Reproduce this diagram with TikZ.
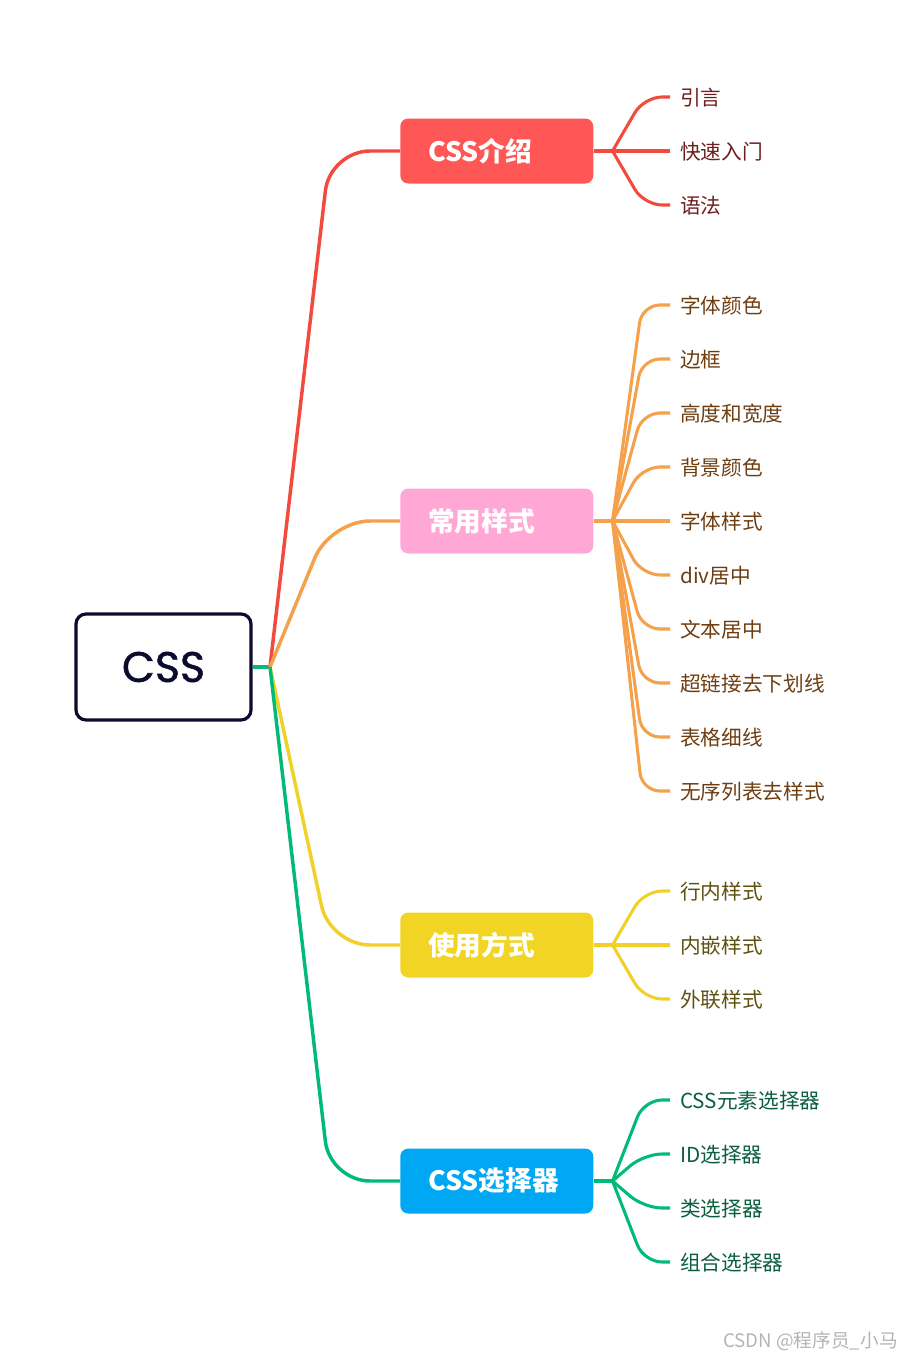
\documentclass[tikz,border=0pt]{standalone}
\usepackage{fontspec}
\setmainfont{Noto Sans CJK SC}
\newfontfamily\popfont{Poppins}[FakeBold=1.2]
\usetikzlibrary{calc}
\definecolor{rootc}{HTML}{0B0B2E}
\definecolor{lred}{HTML}{F24A3E}
\definecolor{fred}{HTML}{FF5656}
\definecolor{tred}{HTML}{6E1E1E}
\definecolor{lorange}{HTML}{F5A04B}
\definecolor{fpink}{HTML}{FFA8D6}
\definecolor{torange}{HTML}{6E3E12}
\definecolor{lyellow}{HTML}{F2D02A}
\definecolor{fyellow}{HTML}{F2D424}
\definecolor{tyellow}{HTML}{5E5010}
\definecolor{lgreen}{HTML}{00BB78}
\definecolor{fblue}{HTML}{00A8F3}
\definecolor{tgreen}{HTML}{0B5E3E}
\definecolor{wm}{HTML}{B4B4B4}
\tikzset{
  rootbox/.style={draw=rootc, line width=2.4pt, rounded corners=7.5pt, minimum width=131.25pt, minimum height=79.5pt, text=rootc, font=\popfont\fontsize{32}{36}\selectfont},
  mainbox/.style={rounded corners=6pt, minimum height=48.75pt, text width=102.75pt, inner xsep=21pt, inner ysep=0pt, align=left, anchor=west, text=white, font=\bfseries\fontsize{20}{24}\selectfont},
  leaf/.style={anchor=west, inner sep=0pt, font=\fontsize{15.5}{18}\selectfont},
  mainline/.style={line width=2.6pt, rounded corners=30pt},
  leafline/.style={line width=2.3pt, rounded corners=13.5pt},
}
\begin{document}
\begin{tikzpicture}[x=0.75pt,y=-0.75pt]
\useasboundingbox (0,0) rectangle (913,1360);
% root
\node[rootbox] (root) at (163.5,667) {CSS};
\coordinate (hub) at (270,667);
% main nodes
\node[mainbox, fill=fred] (intro) at (400,151) {CSS介绍};
\node[mainbox, fill=fpink] (style) at (400,521) {常用样式};
\node[mainbox, fill=fyellow] (use) at (400,945) {使用方式};
\node[mainbox, fill=fblue] (sel) at (400,1181) {CSS选择器};
% main connectors
\draw[lgreen, line width=2.6pt] (root.east) -- (hub);
\draw[lred, mainline] (hub) -- ($(intro.west)+(-70,0)$) -- (intro.west);
\draw[lorange, mainline] (hub) -- ($(style.west)+(-70,0)$) -- (style.west);
\draw[lyellow, mainline] (hub) -- ($(use.west)+(-70,0)$) -- (use.west);
\draw[lgreen, mainline] (hub) -- ($(sel.west)+(-70,0)$) -- (sel.west);
% hubs
\coordinate (h1) at ($(intro.east)+(19,0)$);
\coordinate (h2) at ($(style.east)+(19,0)$);
\coordinate (h3) at ($(use.east)+(19,0)$);
\coordinate (h4) at ($(sel.east)+(19,0)$);
\draw[lred, line width=2.3pt] (intro.east) -- (h1);
\draw[lorange, line width=2.3pt] (style.east) -- (h2);
\draw[lyellow, line width=2.3pt] (use.east) -- (h3);
\draw[lgreen, line width=2.3pt] (sel.east) -- (h4);
% leaves red
\foreach \n/\y/\t in {a1/98/引言, a2/152/快速入门, a3/206/语法}{
  \node[leaf, text=tred] (\n) at (680,\y) {\t};
  \draw[lred, leafline] (h1) -- ($(\n.west)+(-36,-1)$) -- ($(\n.west)+(-10,-1)$);
}
% leaves orange
\foreach \n/\y/\t in {b1/306/字体颜色, b2/360/边框, b3/414/高度和宽度, b4/468/背景颜色, b5/522/字体样式, b6/576/div居中, b7/630/文本居中, b8/684/超链接去下划线, b9/738/表格细线, b10/792/无序列表去样式}{
  \node[leaf, text=torange] (\n) at (680,\y) {\t};
  \draw[lorange, leafline] (h2) -- ($(\n.west)+(-38,-1)$) -- ($(\n.west)+(-10,-1)$);
}
% leaves yellow
\foreach \n/\y/\t in {c1/892/行内样式, c2/946/内嵌样式, c3/1000/外联样式}{
  \node[leaf, text=tyellow] (\n) at (680,\y) {\t};
  \draw[lyellow, leafline] (h3) -- ($(\n.west)+(-36,-1)$) -- ($(\n.west)+(-10,-1)$);
}
% leaves green
\foreach \n/\y/\t in {d1/1101/CSS元素选择器, d2/1155/ID选择器, d3/1209/类选择器, d4/1263/组合选择器}{
  \node[leaf, text=tgreen] (\n) at (680,\y) {\t};
  \draw[lgreen, leafline] (h4) -- ($(\n.west)+(-36,-1)$) -- ($(\n.west)+(-10,-1)$);
}
% watermark
\node[anchor=east, inner sep=0pt, text=wm, font=\fontsize{14}{16}\selectfont] (wmk) at (898,1341) {CSDN @程序员\_小马};
\end{tikzpicture}
\end{document}
